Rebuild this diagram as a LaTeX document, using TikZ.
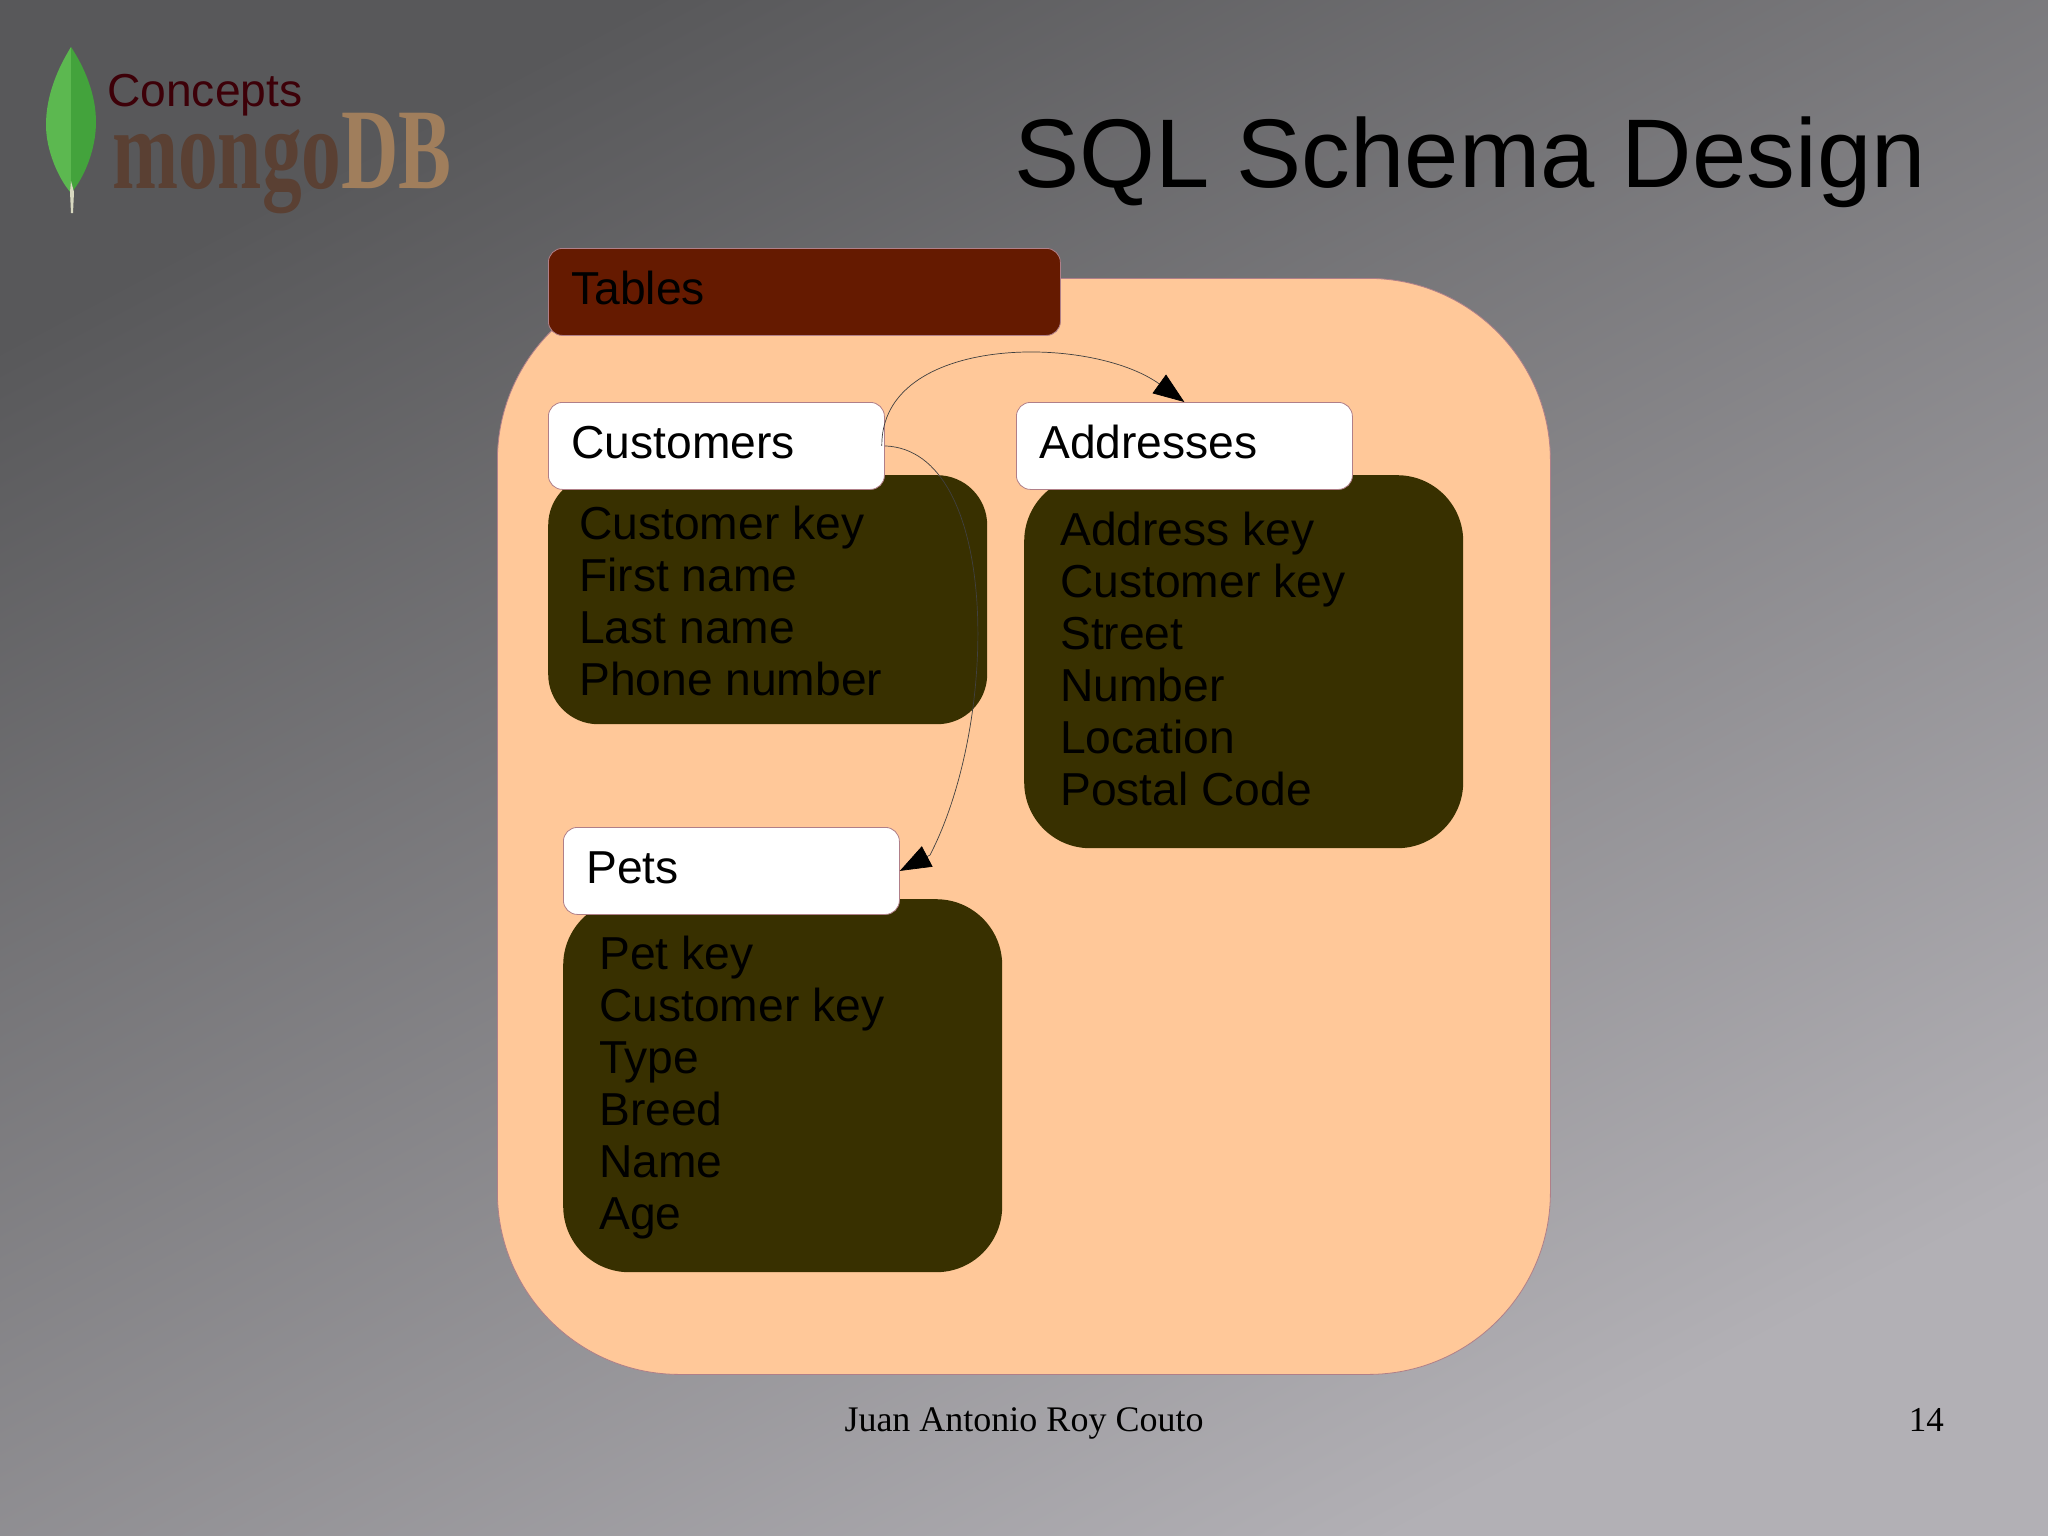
\documentclass[tikz,border=0pt]{standalone}
\usepackage{fontspec}
\setmainfont{Liberation Sans}
\newfontfamily\footfont{Liberation Serif}
\usetikzlibrary{arrows.meta}
\definecolor{peach}{HTML}{FFC899}
\definecolor{olive}{HTML}{383000}
\definecolor{rust}{HTML}{651A00}
\definecolor{edge}{HTML}{B07F88}
\definecolor{maroon}{HTML}{3D0008}
\definecolor{mongodark}{HTML}{5A4033}
\definecolor{mongolight}{HTML}{A07E5C}
\definecolor{bgdark}{HTML}{58585A}
\definecolor{bglight}{HTML}{B2B0B5}
\definecolor{leaflight}{HTML}{5CB850}
\definecolor{leafdark}{HTML}{43A33C}
\definecolor{stem}{HTML}{D8D8C0}
\tikzset{
  bigfont/.style={font=\fontsize{46.2}{52}\selectfont},
  header/.style={bigfont,draw=edge,line width=0.8pt,rounded corners=14pt,anchor=north west,
    text width=290pt,align=left,inner xsep=23pt,inner ysep=0pt,minimum height=87pt,
    text height=36pt,text depth=11pt},
  fields/.style={fill=olive,anchor=north west,inner sep=0pt},
  fieldlist/.style={bigfont,anchor=west,align=left,inner sep=0pt},
  link/.style={line width=0.7pt,color=black!75,-{Triangle[length=31pt,width=23pt,color=black]}}
}
\begin{document}
\begin{tikzpicture}[x=1pt,y=-1pt]
\useasboundingbox (0,0) rectangle (2048,1535);
% background
\shade[top color=bgdark,bottom color=bglight,shading angle=28] (0,0) rectangle (2048,1535);

% logo
\fill[fill=leaflight] (71,47) .. controls (58,68) and (46,95) .. (46,125) .. controls (46,150) and (58,178) .. (71,193) -- cycle;
\fill[fill=leafdark] (71,47) .. controls (85,68) and (96,95) .. (96,122) .. controls (96,150) and (84,178) .. (71,193) -- cycle;
\fill[fill=stem] (71,181) -- (74,192) -- (73,213) -- (71,213) -- (70,192) -- cycle;
\node (concepts) at (107,106.5) [anchor=base west,inner sep=0pt,bigfont,text=maroon] {Concepts};
\node (mongo) at (112,188) [anchor=base west,inner sep=0pt,xscale=0.69,transform shape,
  font=\footfont\bfseries\fontsize{115}{115}\selectfont] {\textcolor{mongodark}{mongo}\textcolor{mongolight}{DB}};

% title and footer
\node (title) at (1926,187) [anchor=base east,inner sep=0pt,font=\fontsize{97.6}{97.6}\selectfont] {SQL Schema Design};
\node (author) at (1024,1431) [anchor=base,inner sep=0pt,font=\footfont\fontsize{36}{36}\selectfont] {Juan Antonio Roy Couto};
\node (page) at (1944,1431) [anchor=base east,inner sep=0pt,font=\footfont\fontsize{35}{35}\selectfont] {14};

% tables
\node (frame) at (497,278) [anchor=north west,draw=edge,line width=0.8pt,fill=peach,rounded corners=182pt,
  minimum width=1053pt,minimum height=1096pt] {};
\node (tables) at (548,248) [header,fill=rust,text width=466pt] {Tables};

\node (customerfields) at (548,475) [fields,rounded corners=50pt,minimum width=439pt,minimum height=249pt] {};
\node (addressfields) at (1024,475) [fields,rounded corners=66pt,minimum width=439pt,minimum height=373pt] {};
\node (petfields) at (563,899) [fields,rounded corners=66pt,minimum width=439pt,minimum height=373pt] {};

\node (customerlist) at ([shift={(31,1)}]customerfields.west) [fieldlist]
  {Customer key\\First name\\Last name\\Phone number};
\node (addresslist) at ([shift={(36,-3)}]addressfields.west) [fieldlist]
  {Address key\\Customer key\\Street\\Number\\Location\\Postal Code};
\node (petlist) at ([shift={(36,1.5)}]petfields.west) [fieldlist]
  {Pet key\\Customer key\\Type\\Breed\\Name\\Age};

\node (customers) at (548,402) [header,fill=white] {Customers};
\node (addresses) at (1016,402) [header,fill=white] {Addresses};
\node (pets) at (563,827) [header,fill=white] {Pets};

% relations
\coordinate (petsbend) at (930,855);
\draw[link] ([xshift=-3pt]customers.east) .. controls (881,334) and (1090,334) .. (addresses.north);
\draw[link] (customers.east) .. controls (1000,450) and (1000,720) .. (petsbend) -- (pets.east);
\end{tikzpicture}
\end{document}
